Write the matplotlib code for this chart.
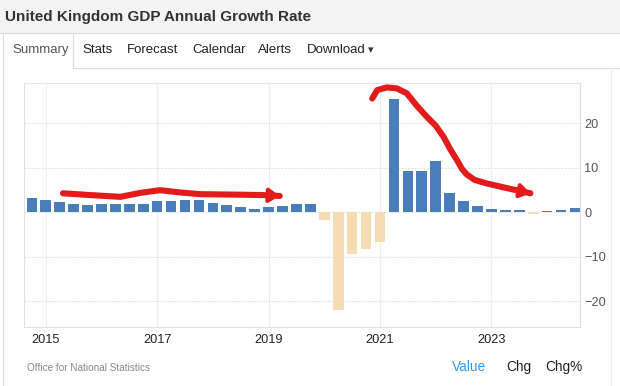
import numpy as np
import pandas as pd
import matplotlib.pyplot as plt

plt.rcParams['font.family'] = ['Liberation Sans', 'DejaVu Sans']

# UK GDP annual growth rate, quarterly (%)
quarters = pd.period_range('2014Q3', '2024Q2', freq='Q')
growth = [3.2, 2.7, 2.3, 1.9, 1.7, 1.9, 1.9, 1.9, 1.9, 2.5,
          2.5, 2.7, 2.9, 2.1, 1.6, 1.2, 0.7, 1.3, 1.4, 1.9,
          1.8, -1.7, -21.9, -9.4, -8.3, -6.6, 25.6, 9.4, 9.4, 11.5,
          4.3, 2.6, 1.4, 0.8, 0.5, 0.5, -0.3, 0.4, 0.6, 1.0]
year_ticks = [2015, 2017, 2019, 2021, 2023]
value_ticks = [-20, -10, 0, 10, 20]
tabs = ['Summary', 'Stats', 'Forecast', 'Calendar', 'Alerts', 'Download']
source = 'Office for National Statistics'

# red marker scribbles on the screenshot (year, value)
scribble1_x = [2015.31, 2015.8, 2016.34, 2016.7, 2017.05, 2017.4, 2017.77, 2018.4, 2018.9, 2019.2]
scribble1_y = [4.3, 3.9, 3.5, 4.4, 5.0, 4.5, 4.1, 4.0, 3.9, 3.7]
scribble2_x = [2020.86, 2020.95, 2021.12, 2021.3, 2021.48, 2021.66, 2021.84, 2022.0,
               2022.14, 2022.27, 2022.38, 2022.47, 2022.56, 2022.7, 2022.92, 2023.3, 2023.7]
scribble2_y = [25.6, 27.5, 28.1, 27.9, 26.8, 24.0, 21.5, 19.5,
               17.0, 14.0, 11.8, 9.8, 8.5, 7.3, 6.5, 5.4, 4.3]

x = np.array([p.year + p.quarter * 0.25 for p in quarters])
g = np.array(growth)
colors = np.where(g >= 0, '#4a7ebb', '#f5dcb3')

fig = plt.figure(figsize=(6.2, 3.86), dpi=100)

# page chrome in pixel coordinates
bg = fig.add_axes([0, 0, 1, 1])
bg.set_xlim(0, 620)
bg.set_ylim(386, 0)
bg.axis('off')
bg.add_patch(plt.Rectangle((0, 0), 620, 33, color='#f3f3f3', lw=0))
bg.plot([0, 620], [33, 33], color='#dddddd', lw=0.8)
bg.plot([3, 3, 73, 73], [386, 33, 33, 68], color='#dddddd', lw=0.8)
bg.plot([73, 620], [68, 68], color='#dddddd', lw=0.8)
bg.plot([611, 611], [68, 386], color='#eeeeee', lw=0.8)
bg.text(5, 17, 'United Kingdom GDP Annual Growth Rate', fontsize=11,
        fontweight='bold', color='#333333', va='center')
tab_x = [12, 82, 127, 192, 258, 307]
for t, tx in zip(tabs, tab_x):
    bg.text(tx, 50, t, fontsize=9.5, color='#555555' if t == 'Summary' else '#222222',
            va='center')
bg.text(368, 50, '\u25be', fontsize=8, color='#333333', va='center')
bg.text(27, 368, source, fontsize=7.2, color='#888888', va='center')
bg.text(452, 367, 'Value', fontsize=9.8, color='#2f9bf0', va='center')
bg.text(506, 367, 'Chg', fontsize=9.8, color='#222222', va='center')
bg.text(545, 367, 'Chg%', fontsize=9.8, color='#222222', va='center')

ax = fig.add_axes([24 / 620, 1 - 326.7 / 386, 556 / 620, (326.7 - 83) / 386])
ax.set_facecolor('none')
ax.bar(x, g, width=0.19, color=colors, zorder=3)
ax.set_xlim(2014.61, 2024.59)
ax.set_ylim(-25.7, 29.1)
ax.set_xticks(year_ticks)
ax.set_xticklabels([str(y) for y in year_ticks])
ax.set_yticks(value_ticks)
ax.yaxis.tick_right()
ax.tick_params(axis='both', length=0, labelsize=9.2)
ax.tick_params(axis='x', colors='#222222', pad=5)
ax.tick_params(axis='y', colors='#555555', pad=3)
ax.grid(axis='y', color='#e6e6e6', lw=0.8, ls=(0, (2, 1)))
ax.grid(axis='x', color='#eeeeee', lw=0.8)
for side in ['left', 'bottom', 'right']:
    ax.spines[side].set_color('#e0e0e0')
ax.spines['top'].set_color('#e6e6e6')
ax.spines['top'].set_linestyle((0, (2, 1)))

# hand-drawn red arrows
red = '#e31b1b'
for sx, sy in [(scribble1_x, scribble1_y), (scribble2_x, scribble2_y)]:
    ax.plot(sx, sy, color=red, lw=4.4, solid_capstyle='round',
            solid_joinstyle='round', clip_on=False, zorder=5)
    ax.annotate('', xy=(sx[-1], sy[-1]), xytext=(sx[-2], sy[-2]),
                arrowprops=dict(arrowstyle='-|>,head_length=0.6,head_width=0.4',
                                color=red, lw=3, shrinkA=0, shrinkB=0),
                annotation_clip=False, zorder=6)

plt.savefig('out.png', dpi=100)
